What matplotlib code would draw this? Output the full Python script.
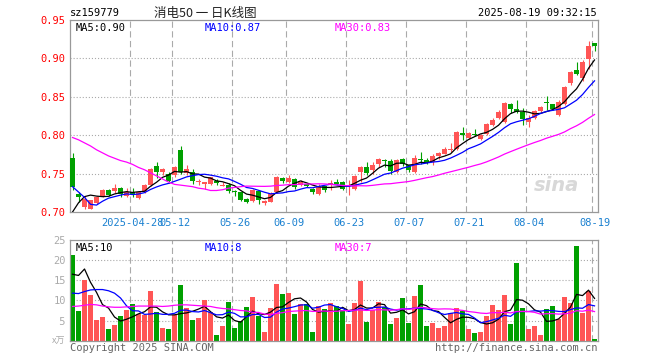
import numpy as np
import pandas as pd
import matplotlib
matplotlib.use("Agg")
import matplotlib.pyplot as plt

plt.rcParams["font.family"] = ["DejaVu Sans Mono", "Noto Sans CJK SC"]
plt.rcParams["lines.scale_dashes"] = False

# trading days shown (Apr 14 - Aug 19 2025, exchange holidays removed)
holidays = ["2025-05-01", "2025-05-02", "2025-05-05", "2025-06-02"]
dates = pd.bdate_range("2025-04-14", "2025-08-19")
dates = dates[~dates.isin(pd.to_datetime(holidays))]

opens = [0.7705, 0.7239, 0.7065, 0.7045, 0.7122, 0.7205, 0.7291, 0.7274, 0.7313, 0.7204,
         0.7261, 0.7183, 0.7261, 0.7357, 0.7596, 0.7522, 0.7500, 0.7478, 0.7805, 0.7509,
         0.7520, 0.7387, 0.7361, 0.7361, 0.7410, 0.7345, 0.7348, 0.7261, 0.7261, 0.7166,
         0.7140, 0.7278, 0.7117, 0.7131, 0.7260, 0.7448, 0.7391, 0.7435, 0.7357, 0.7370,
         0.7305, 0.7231, 0.7335, 0.7348, 0.7391, 0.7390, 0.7344, 0.7304, 0.7522, 0.7587,
         0.7552, 0.7630, 0.7683, 0.7665, 0.7522, 0.7687, 0.7609, 0.7522, 0.7696, 0.7674,
         0.7652, 0.7726, 0.7761, 0.7813, 0.7817, 0.8035, 0.7970, 0.8013, 0.7957, 0.8013,
         0.8139, 0.8226, 0.8170, 0.8404, 0.8340, 0.8300, 0.8174, 0.8230, 0.8313, 0.8435,
         0.8404, 0.8260, 0.8404, 0.8674, 0.8848, 0.8740, 0.8990, 0.9196]
highs = [0.7774, 0.7265, 0.7210, 0.7160, 0.7204, 0.7300, 0.7300, 0.7360, 0.7330, 0.7318,
         0.7310, 0.7270, 0.7365, 0.7574, 0.7652, 0.7570, 0.7522, 0.7600, 0.7865, 0.7610,
         0.7560, 0.7435, 0.7395, 0.7460, 0.7435, 0.7390, 0.7380, 0.7290, 0.7265, 0.7180,
         0.7300, 0.7283, 0.7160, 0.7260, 0.7470, 0.7460, 0.7480, 0.7440, 0.7420, 0.7375,
         0.7310, 0.7370, 0.7340, 0.7420, 0.7435, 0.7400, 0.7413, 0.7480, 0.7596, 0.7652,
         0.7652, 0.7700, 0.7685, 0.7685, 0.7696, 0.7709, 0.7615, 0.7739, 0.7783, 0.7704,
         0.7752, 0.7783, 0.7848, 0.7904, 0.8050, 0.8109, 0.8043, 0.8078, 0.8020, 0.8157,
         0.8222, 0.8322, 0.8435, 0.8422, 0.8457, 0.8348, 0.8260, 0.8330, 0.8380, 0.8509,
         0.8410, 0.8457, 0.8635, 0.8840, 0.8948, 0.8978, 0.9230, 0.9200]
lows = [0.7280, 0.7130, 0.7040, 0.7035, 0.7110, 0.7195, 0.7205, 0.7250, 0.7196, 0.7196,
        0.7196, 0.7170, 0.7250, 0.7340, 0.7440, 0.7480, 0.7380, 0.7460, 0.7500, 0.7485,
        0.7370, 0.7348, 0.7305, 0.7350, 0.7348, 0.7340, 0.7250, 0.7209, 0.7140, 0.7120,
        0.7125, 0.7105, 0.7087, 0.7125, 0.7250, 0.7380, 0.7380, 0.7300, 0.7343, 0.7320,
        0.7230, 0.7220, 0.7260, 0.7290, 0.7348, 0.7290, 0.7217, 0.7283, 0.7391, 0.7478,
        0.7500, 0.7590, 0.7587, 0.7500, 0.7510, 0.7596, 0.7522, 0.7509, 0.7630, 0.7630,
        0.7609, 0.7696, 0.7752, 0.7783, 0.7804, 0.7935, 0.7957, 0.7987, 0.7943, 0.8000,
        0.8126, 0.8209, 0.8161, 0.8283, 0.8283, 0.8130, 0.8110, 0.8213, 0.8300, 0.8326,
        0.8330, 0.8248, 0.8390, 0.8660, 0.8783, 0.8709, 0.8857, 0.9100]
closes = [0.7326, 0.7196, 0.7165, 0.7152, 0.7196, 0.7291, 0.7217, 0.7317, 0.7239, 0.7261,
          0.7240, 0.7261, 0.7348, 0.7565, 0.7522, 0.7560, 0.7410, 0.7587, 0.7515, 0.7560,
          0.7410, 0.7395, 0.7391, 0.7450, 0.7380, 0.7355, 0.7270, 0.7255, 0.7152, 0.7135,
          0.7283, 0.7155, 0.7139, 0.7239, 0.7457, 0.7404, 0.7444, 0.7326, 0.7391, 0.7335,
          0.7261, 0.7326, 0.7291, 0.7383, 0.7370, 0.7300, 0.7348, 0.7465, 0.7587, 0.7509,
          0.7609, 0.7687, 0.7661, 0.7535, 0.7683, 0.7622, 0.7552, 0.7704, 0.7674, 0.7652,
          0.7726, 0.7770, 0.7817, 0.7818, 0.8044, 0.8009, 0.8030, 0.8000, 0.8000, 0.8144,
          0.8204, 0.8300, 0.8422, 0.8335, 0.8300, 0.8210, 0.8230, 0.8313, 0.8370, 0.8413,
          0.8339, 0.8435, 0.8622, 0.8826, 0.8796, 0.8950, 0.9161, 0.9165]
# volume, unit 10k shares
volume = [21.25, 7.25, 15.0, 11.25, 5.25, 6.0, 3.0, 3.9, 6.25, 7.5,
          9.0, 6.7, 6.5, 12.25, 7.1, 3.25, 3.0, 6.5, 13.75, 8.0,
          5.25, 5.75, 10.0, 7.1, 1.5, 3.75, 9.5, 3.25, 5.0, 8.25,
          10.75, 6.25, 2.25, 8.0, 14.0, 11.5, 11.75, 6.75, 9.0, 9.0,
          2.25, 8.5, 7.75, 9.25, 8.5, 7.5, 4.25, 9.25, 14.8, 4.75,
          7.5, 9.5, 8.25, 4.25, 5.75, 10.5, 4.5, 11.0, 13.75, 3.75,
          4.5, 3.25, 3.75, 7.0, 8.0, 7.25, 3.0, 2.0, 2.25, 6.25,
          8.75, 7.5, 11.25, 4.25, 19.25, 8.0, 3.0, 3.75, 1.5, 7.75,
          8.5, 5.5, 10.75, 9.25, 23.5, 7.0, 12.25, 0.5]

# moving averages before enough history is on screen
ma5_head = [0.700, 0.712, 0.720, 0.722]
ma10_head = [0.733, 0.726, 0.719, 0.710, 0.709, 0.714, 0.718, 0.720, 0.722]
ma30_head = [0.797, 0.794, 0.790, 0.786, 0.781, 0.777, 0.773, 0.770, 0.767, 0.765,
             0.762, 0.758, 0.755, 0.751, 0.747, 0.743, 0.739, 0.736, 0.735, 0.734,
             0.733, 0.731, 0.730, 0.728, 0.728, 0.729, 0.731, 0.732, 0.733]
vma5_head = [16.5, 16.2, 17.8, 14.5]
vma10_head = [11.8, 11.7, 12.2, 12.6, 12.7, 12.7, 12.4, 11.8, 10.6]
vma30_head = [8.5, 8.6, 8.8, 9.0, 8.9, 8.6, 8.4, 8.3, 8.3, 8.4,
              8.5, 8.6, 8.6, 8.6, 8.6, 8.5, 8.6, 8.8, 8.9, 8.9,
              8.8, 8.7, 8.6, 8.5, 8.2, 8.0, 7.9, 7.7, 7.5]

tick_dates = ["2025-04-28", "2025-05-12", "2025-05-26", "2025-06-09", "2025-06-23",
              "2025-07-07", "2025-07-21", "2025-08-04", "2025-08-19"]
tick_labels = ["2025-04-28", "05-12", "05-26", "06-09", "06-23", "07-07", "07-21", "08-04", "08-19"]


def moving(values, n, head):
    m = pd.Series(values).rolling(n).mean().to_numpy()
    m[:len(head)] = head
    return m


RED, GREEN = "#ff5555", "#00a000"
GRID = "#aaaaaa"
W, H = 660, 360

o, h, l, c = map(np.array, (opens, highs, lows, closes))
x = np.arange(len(c))
up = c >= o
colors = np.where(up, RED, GREEN)

fig = plt.figure(figsize=(6.6, 3.6), dpi=100)
ax = fig.add_axes([70 / W, 1 - 212 / H, 527.7 / W, 192 / H])
axv = fig.add_axes([70 / W, 1 - 340.7 / H, 527.7 / W, 100.7 / H])

tick_pos = [dates.get_loc(pd.Timestamp(d)) for d in tick_dates]
xlim = (-0.42, len(c) - 0.47)

for a in (ax, axv):
    a.set_xlim(*xlim)
    for s in a.spines.values():
        s.set_color("#999999")
        s.set_linewidth(0.9)
    for p in tick_pos:
        a.axvline(p - 0.4, color=GRID, lw=0.8, ls=(0, (4.5, 2.5)), zorder=0)
    a.tick_params(length=0)

# price panel
ax.set_ylim(0.70, 0.95)
for yv in [0.75, 0.80, 0.85, 0.90]:
    ax.axhline(yv, color=GRID, lw=0.8, ls=(0, (0.8, 1.4)), zorder=0)
ax.vlines(x, l, h, colors=colors, lw=0.8, zorder=2)
body = np.maximum(np.abs(c - o), 0.0012)
ax.bar(x, body, bottom=np.minimum(o, c), width=0.8, color=colors, zorder=3)

ma5 = moving(closes, 5, ma5_head)
ma10 = moving(closes, 10, ma10_head)
ma30 = moving(closes, 30, ma30_head)
ax.plot(x, ma5, color="black", lw=0.9, zorder=4)
ax.plot(x, ma10, color="#0000ff", lw=0.9, zorder=4)
ax.plot(x, ma30, color="#ff00ff", lw=0.9, zorder=4)

ax.set_yticks([0.70, 0.75, 0.80, 0.85, 0.90, 0.95])
ax.set_yticklabels([f"{v:.2f}" for v in ax.get_yticks()], color="red", fontsize=7.5)
ax.tick_params(axis="y", pad=3)
ax.set_xticks(tick_pos)
ax.set_xticklabels(tick_labels, color="#1a80d0", fontsize=7.5)
ax.tick_params(axis="x", pad=4)

ax.text(0.01, 0.985, f"MA5:{ma5[-1]:.2f}", transform=ax.transAxes, va="top", fontsize=7.5, color="black")
ax.text(0.256, 0.985, f"MA10:{ma10[-1]:.2f}", transform=ax.transAxes, va="top", fontsize=7.5, color="#0000ff")
ax.text(0.502, 0.985, f"MA30:{ma30[-1]:.2f}", transform=ax.transAxes, va="top", fontsize=7.5, color="#ff00ff")
ax.text(0.965, 0.14, "sina", transform=ax.transAxes, ha="right", va="center", fontsize=14,
        fontweight="bold", style="italic", family="DejaVu Sans", color="#d8d8d8", zorder=1)

# volume panel
v = np.array(volume)
axv.set_ylim(0, 25)
for yv in [5, 10, 15, 20]:
    axv.axhline(yv, color=GRID, lw=0.8, ls=(0, (0.8, 1.4)), zorder=0)
axv.bar(x, v, width=0.8, color=colors, zorder=2)
vma5 = moving(volume, 5, vma5_head)
vma10 = moving(volume, 10, vma10_head)
vma30 = moving(volume, 30, vma30_head)
axv.plot(x, vma5, color="black", lw=0.9, zorder=4)
axv.plot(x, vma10, color="#0000ff", lw=0.9, zorder=4)
axv.plot(x, vma30, color="#ff00ff", lw=0.9, zorder=4)
axv.set_xticks([])
axv.set_yticks([5, 10, 15, 20, 25])
axv.set_yticklabels([f"{t:>2d}" for t in [5, 10, 15, 20, 25]], color="#aaaaaa", fontsize=7.5)
axv.tick_params(axis="y", pad=3)
axv.text(0.01, 0.975, f"MA5:{int(vma5[-1])}", transform=axv.transAxes, va="top", fontsize=7.5, color="black")
axv.text(0.256, 0.975, f"MA10:{int(vma10[-1])}", transform=axv.transAxes, va="top", fontsize=7.5, color="#0000ff")
axv.text(0.502, 0.975, f"MA30:{int(vma30[-1])}", transform=axv.transAxes, va="top", fontsize=7.5, color="#ff00ff")

# header and footer
fig.text(70 / W, 1 - 13 / H, "sz159779", fontsize=7.5, va="center", color="black")
fig.text(205 / W, 1 - 13 / H, "消电50 一 日K线图", fontsize=9, va="center", ha="center",
         family=["Noto Sans CJK SC", "DejaVu Sans"], color="#222222")
fig.text(597 / W, 1 - 13 / H, "2025-08-19 09:32:15", fontsize=7.5, va="center", ha="right", color="black")
fig.text(70 / W, 1 - 348 / H, "Copyright 2025 SINA.COM", fontsize=7.5, va="center", color="#666666")
fig.text(597 / W, 1 - 348 / H, "http://finance.sina.com.cn", fontsize=7.5, va="center", ha="right", color="#666666")
fig.text(65 / W, 1 - 341 / H, "x万", fontsize=6.5, va="center", ha="right", color="#aaaaaa",
         family=["Noto Sans CJK SC", "DejaVu Sans"])

fig.savefig("out.png", dpi=100, facecolor="white")
